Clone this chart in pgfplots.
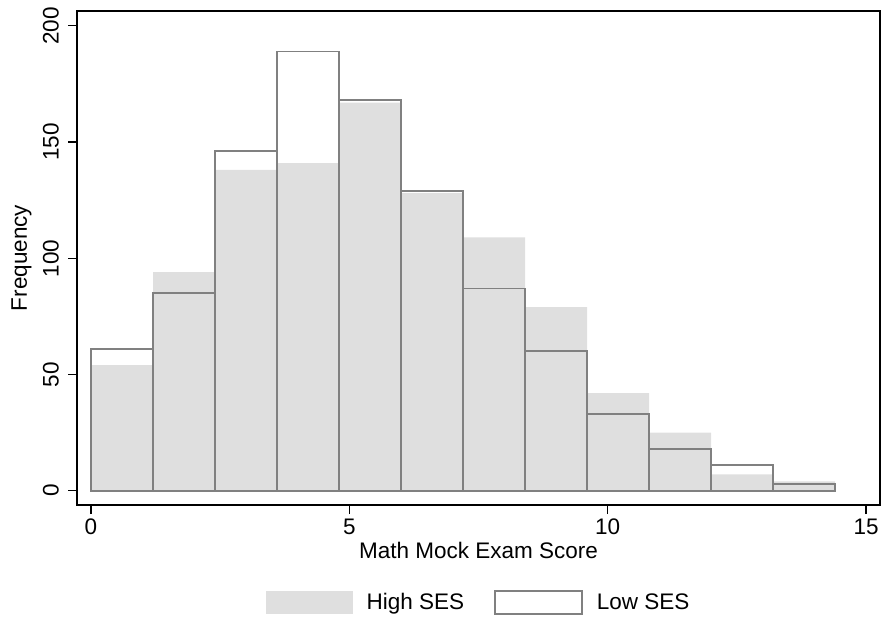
\documentclass[border=0pt]{standalone}
\usepackage{fontspec}
\setmainfont{Liberation Sans}
\usepackage{pgfplots}
\pgfplotsset{compat=1.18}

\definecolor{highfill}{RGB}{223,223,223}
\definecolor{lowline}{RGB}{128,128,128}

% bin centres, width 1.2
\pgfplotstableread{
x     high  low
0.6   54    61
1.8   94    85
3.0   138   146
4.2   141   189
5.4   167   168
6.6   128   129
7.8   109   87
9.0   79    60
10.2  42    33
11.4  25    18
12.6  7     11
13.8  4     3
}\histdata

\newcommand{\lab}{\fontsize{22.5}{27}\selectfont}

\begin{document}
\begin{tikzpicture}
\useasboundingbox (0,0) rectangle (883pt,619pt);
\begin{axis}[
    at={(77pt,114pt)}, anchor=south west,
    scale only axis,
    width=803pt, height=494pt,
    xmin=-0.271, xmax=15.27,
    ymin=-6.15, ymax=206.4,
    xtick={0,5,10,15},
    ytick={0,50,100,150,200},
    tick align=outside,
    major tick length=9pt,
    tick style={black, line width=1.2pt},
    axis line style={black, line width=1.2pt},
    xtick pos=bottom, ytick pos=left,
    /pgf/number format/assume math mode=true,
    tick label style={font=\lab},
    yticklabel style={rotate=90, anchor=south},
    yticklabel shift=5.5pt,
    xticklabel shift=1pt,
    xlabel={Math Mock Exam Score},
    ylabel={Frequency},
    label style={font=\lab},
    x label style={at={(axis description cs:0.5,-0.1093)}, anchor=base},
    y label style={at={(axis description cs:-0.0623,0.5)}, rotate=0, anchor=base},
    legend columns=2,
    legend style={
        at={(axis description cs:0.5,-0.1974)}, anchor=center,
        draw=none, fill=none, font=\lab,
        /tikz/every even column/.append style={column sep=28pt},
    },
]
\addplot[ybar, bar width=1.2, bar shift=0pt, fill=highfill, draw=none,
    legend image code/.code={\fill[highfill] (0pt,-11.5pt) rectangle (87pt,11.5pt);
        \path (99pt,0pt);}]
    table[x=x, y=high] {\histdata};
\addlegendentry{High SES}
\addplot[ybar, bar width=1.2, bar shift=0pt, fill=none, draw=lowline, line width=1.8pt,
    legend image code/.code={\draw[lowline, line width=1.5pt] (0pt,-11.5pt) rectangle (87pt,11.5pt);
        \path (99pt,0pt);}]
    table[x=x, y=low] {\histdata};
\addlegendentry{Low SES}
\end{axis}
\end{tikzpicture}
\end{document}
